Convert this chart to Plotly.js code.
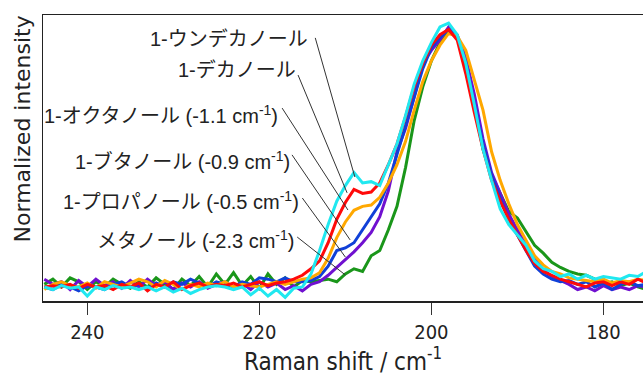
<!DOCTYPE html>
<html>
<head>
<meta charset="utf-8">
<script src="https://cdn.plot.ly/plotly-3.0.1.min.js"></script>
<style>
html,body{margin:0;padding:0;background:#fff;}
#chart{width:643px;height:378px;}
</style>
</head>
<body>
<div id="chart"></div>
<script>
// Raman shift axis (cm^-1)
var ramanShift = [245,244,243,242,241,240,239,238,237,236,235,234,233,232,231,230,229,228,227,226,225,224,223,222,221,220,219,218,217,216,215,214,213,212,211,210,209,208,207,206,205,204,203,202,201,200,199,198,197,196,195,194,193,192,191,190,189,188,187,186,185,184,183,182,181,180,179,178,177,176,175];

var methanol = [0.01,0.03,0.0,0.035,0.02,-0.01,0.02,0.0,0.03,0.01,-0.005,0.02,0.0,0.035,0.01,-0.01,0.03,0.005,0.04,0.0,0.05,0.01,0.055,0.005,0.04,-0.005,0.05,0.01,0.035,0.0,0.025,0.02,0.025,0.03,0.02,0.05,0.07,0.06,0.12,0.14,0.22,0.31,0.46,0.64,0.77,0.87,0.94,0.985,0.96,0.85,0.70,0.53,0.43,0.36,0.29,0.265,0.21,0.16,0.13,0.095,0.075,0.06,0.05,0.045,0.03,0.01,0.02,0.005,0.015,0.0,-0.01];

var propanol = [0.03,0.01,0.02,-0.01,0.025,0.0,0.03,0.005,0.02,-0.005,0.025,0.0,0.03,0.005,0.02,-0.01,0.015,0.0,0.02,-0.005,0.01,0.02,0.0,0.015,-0.01,0.02,0.0,0.015,-0.01,0.005,-0.015,0.01,0.02,0.045,0.075,0.105,0.135,0.17,0.21,0.27,0.37,0.52,0.61,0.73,0.86,0.91,0.95,1.0,0.97,0.88,0.74,0.57,0.44,0.36,0.28,0.22,0.16,0.11,0.065,0.04,0.025,0.01,-0.01,0.0,-0.015,0.005,-0.01,0.0,-0.01,0.005,0.0];

var butanol = [0.0,-0.01,0.01,0.0,-0.015,0.005,0.0,-0.01,0.01,0.02,0.0,0.01,-0.005,0.015,0.0,0.02,0.01,0.03,0.015,0.0,0.02,0.01,0.0,0.02,0.01,0.035,0.03,0.02,0.035,0.02,0.02,0.025,0.04,0.08,0.14,0.15,0.17,0.22,0.27,0.32,0.40,0.51,0.62,0.74,0.84,0.92,0.96,0.99,0.96,0.86,0.71,0.55,0.43,0.34,0.26,0.20,0.14,0.08,0.05,0.03,0.02,0.025,0.01,0.02,0.0,0.015,-0.01,0.01,0.02,0.005,0.01];

var octanol = [-0.01,0.01,0.02,0.005,0.0,0.015,-0.005,0.02,0.01,0.0,0.015,0.03,0.02,0.0,0.025,0.01,-0.01,0.01,0.0,0.015,0.005,0.02,0.0,0.01,0.005,0.0,0.01,0.02,0.01,0.02,0.03,0.035,0.055,0.11,0.19,0.25,0.295,0.31,0.315,0.345,0.40,0.47,0.56,0.68,0.79,0.87,0.93,0.975,0.965,0.91,0.80,0.68,0.52,0.41,0.32,0.24,0.18,0.12,0.085,0.06,0.05,0.035,0.03,0.025,0.02,0.03,0.015,0.025,0.02,0.03,0.025];

var decanol = [0.0,0.005,0.0,0.01,-0.005,0.01,0.0,0.005,-0.01,0.01,0.0,0.015,-0.015,0.01,0.0,0.02,-0.01,0.005,0.015,0.0,0.01,0.005,0.015,0.0,0.01,0.02,0.005,0.015,0.02,0.03,0.045,0.07,0.10,0.17,0.26,0.325,0.375,0.36,0.365,0.40,0.47,0.55,0.655,0.77,0.86,0.93,0.97,0.99,0.95,0.82,0.67,0.53,0.41,0.33,0.26,0.20,0.14,0.09,0.06,0.045,0.03,0.02,0.01,0.0,0.015,0.02,0.005,0.02,0.01,0.03,0.015];

var undecanol = [0.0,-0.01,0.005,-0.005,0.0,-0.035,0.0,-0.01,0.005,-0.005,0.0,-0.01,0.0,-0.015,0.0,-0.02,-0.005,-0.025,-0.01,0.0,0.005,0.0,-0.01,0.0,-0.03,-0.005,-0.035,-0.01,-0.04,-0.005,0.0,0.05,0.14,0.24,0.33,0.39,0.44,0.40,0.405,0.39,0.47,0.55,0.66,0.78,0.87,0.94,1.0,1.015,0.97,0.86,0.70,0.53,0.41,0.30,0.24,0.20,0.16,0.10,0.07,0.06,0.04,0.05,0.03,0.045,0.03,0.04,0.035,0.03,0.045,0.04,0.06];

var seriesNames = ["メタノール","1-プロパノール","1-ブタノール","1-オクタノール","1-デカノール","1-ウンデカノール"];
var seriesColors = ["#1a961a","#7010d0","#1040d8","#ffa800","#ff0a0a","#20e8f0"];
var seriesData = [methanol, propanol, butanol, octanol, decanol, undecanol];

var tickValues = [240,220,200,180];
var tickLabels = ["240","220","200","180"];

// label texts, their anchor points and leader lines
var labelTexts = [
  "1-ウンデカノール",
  "1-デカノール",
  "1-オクタノール (-1.1 cm<sup>-1</sup>)",
  "1-ブタノール (-0.9 cm<sup>-1</sup>)",
  "1-プロパノール (-0.5 cm<sup>-1</sup>)",
  "メタノール (-2.3 cm<sup>-1</sup>)"
];
var labelPos = [[214.1,0.955],[215.5,0.835],[217.6,0.665],[216.2,0.485],[215.2,0.331],[215.75,0.181]];
var leaderStart = [[213.5,0.958],[215.5,0.815],[217.35,0.688],[216.2,0.508],[215.0,0.342],[215.6,0.192]];
var leaderEnd = [[208.9,0.423],[209.8,0.362],[209.7,0.296],[209.45,0.181],[210.0,0.115],[210.0,0.046]];

var condensed = "'DejaVu Sans Condensed', 'DejaVu Sans', sans-serif";
var labelFont = "'Liberation Sans', 'Noto Sans CJK JP', sans-serif";

var traces = seriesData.map(function(d, i){
  return {x: ramanShift, y: d, type: 'scatter', mode: 'lines', name: seriesNames[i],
          line: {color: seriesColors[i], width: 3}, hoverinfo: 'skip'};
});

var annotations = labelTexts.map(function(t, i){
  return {x: labelPos[i][0], y: labelPos[i][1], xref: 'x', yref: 'y', text: t,
    showarrow: false, xanchor: 'right', yanchor: 'middle',
    font: {family: labelFont, size: 20, color: '#222'}};
});
annotations.push({x: -0.035, y: 0.6, xref: 'paper', yref: 'paper', text: 'Normalized intensity',
  showarrow: false, textangle: -90, xanchor: 'center', yanchor: 'middle',
  font: {family: "'DejaVu Sans', sans-serif", size: 22, color: '#222'}});

var shapes = leaderStart.map(function(s, i){
  return {type: 'line', xref: 'x', yref: 'y', x0: s[0], y0: s[1], x1: leaderEnd[i][0], y1: leaderEnd[i][1],
    line: {color: '#333', width: 1}};
});

var layout = {
  width: 643, height: 378,
  margin: {l: 43, r: 0, t: 15, b: 77},
  paper_bgcolor: '#fff', plot_bgcolor: '#fff',
  showlegend: false,
  xaxis: {
    range: [245.15, 175.4], tickvals: tickValues, ticktext: tickLabels,
    ticks: 'outside', ticklen: 12, tickwidth: 1.5, tickcolor: '#333',
    showline: true, mirror: true, linecolor: '#222', linewidth: 1.5,
    showgrid: false, zeroline: false,
    tickfont: {family: condensed, size: 20, color: '#222'},
    title: {text: 'Raman shift / cm<sup>-1</sup>', font: {family: condensed, size: 24, color: '#222'}, standoff: 10}
  },
  yaxis: {
    range: [-0.054, 1.046], showticklabels: false, ticks: '',
    showline: true, linecolor: '#222', linewidth: 1.5,
    showgrid: false, zeroline: false
  },
  annotations: annotations,
  shapes: shapes
};

Plotly.newPlot('chart', traces, layout, {displayModeBar: false, staticPlot: true});
</script>
</body>
</html>
